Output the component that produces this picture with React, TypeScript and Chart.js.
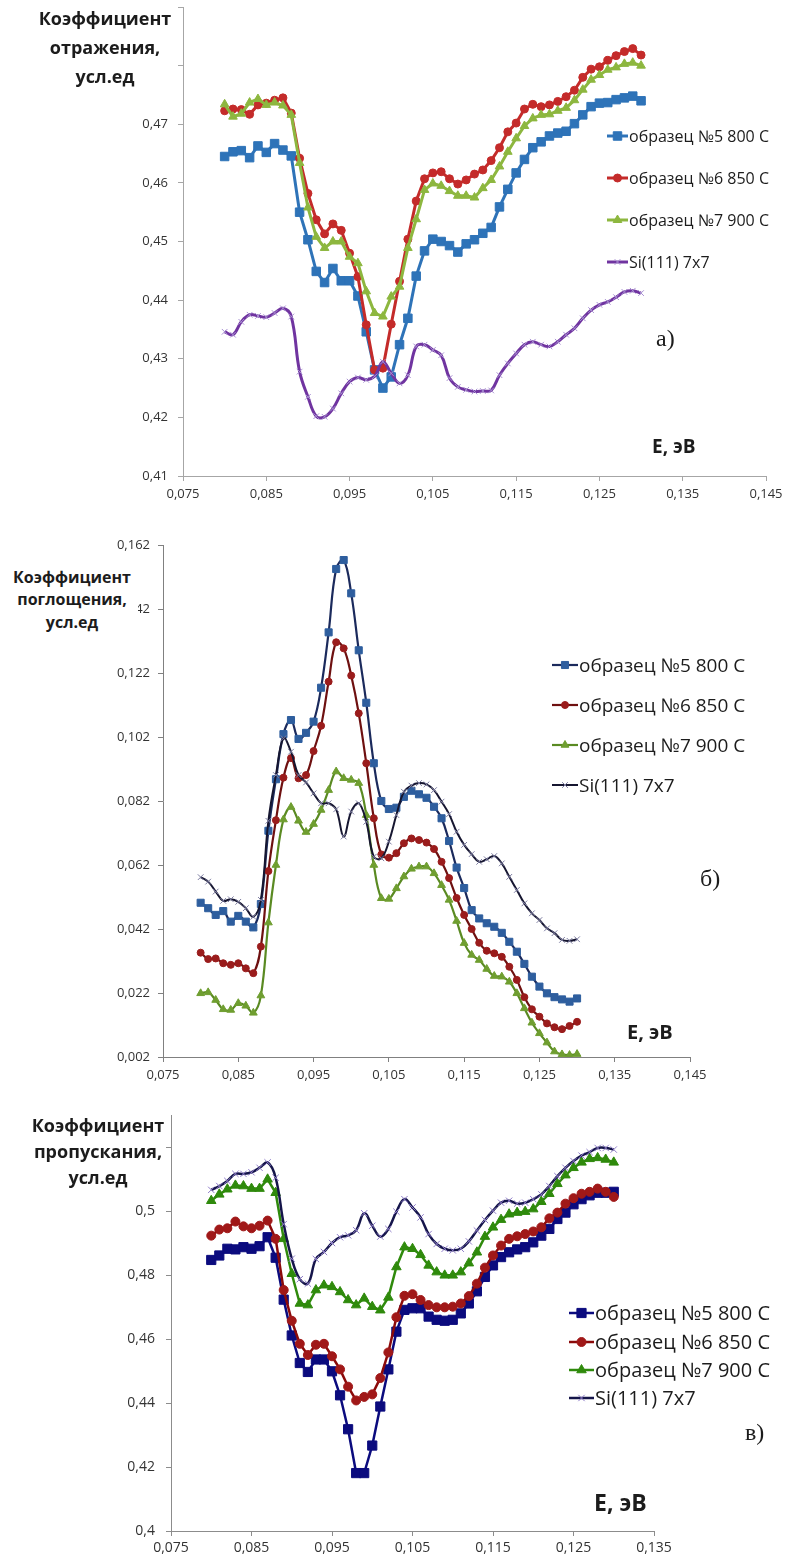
import React, { useEffect, useRef } from 'react';
import { Chart, registerables } from 'chart.js';
import { drawPoint } from 'chart.js/helpers';

Chart.register(...registerables);

// ---------- shared data ----------
const ENERGY = [
  0.080, 0.081, 0.082, 0.083, 0.084, 0.085, 0.086, 0.087, 0.088, 0.089,
  0.090, 0.091, 0.092, 0.093, 0.094, 0.095, 0.096, 0.097, 0.098, 0.099,
  0.100, 0.101, 0.102, 0.103, 0.104, 0.105, 0.106, 0.107, 0.108, 0.109,
  0.110, 0.111, 0.112, 0.113, 0.114, 0.115, 0.116, 0.117, 0.118, 0.119,
  0.120, 0.121, 0.122, 0.123, 0.124, 0.125, 0.126, 0.127, 0.128, 0.129,
  0.130,
];

const SERIES_NAMES = ['образец №5 800 С', 'образец №6 850 С', 'образец №7 900 С', 'Si(111) 7x7'];

const X_TICKS_AB = [0.075, 0.085, 0.095, 0.105, 0.115, 0.125, 0.135, 0.145];
const X_LABELS_AB = ['0,075', '0,085', '0,095', '0,105', '0,115', '0,125', '0,135', '0,145'];
const X_TICKS_C = [0.075, 0.085, 0.095, 0.105, 0.115, 0.125, 0.135];
const X_LABELS_C = ['0,075', '0,085', '0,095', '0,105', '0,115', '0,125', '0,135'];

// ---------- a) reflection ----------
const Y_TICKS_A = [0.41, 0.42, 0.43, 0.44, 0.45, 0.46, 0.47, 0.48, 0.49];
const Y_LABELS_A = ['0,41', '0,42', '0,43', '0,44', '0,45', '0,46', '0,47', '', ''];

const A_S5 = [
  0.4645, 0.4653, 0.4655, 0.4643, 0.4663, 0.4652, 0.4667, 0.4656, 0.4646, 0.4550,
  0.4503, 0.4449, 0.4430, 0.4454, 0.4433, 0.4433, 0.4407, 0.4346, 0.4281, 0.4250,
  0.4269, 0.4324, 0.4369, 0.4441, 0.4484, 0.4504, 0.4500, 0.4493, 0.4482, 0.4496,
  0.4503, 0.4514, 0.4524, 0.4559, 0.4589, 0.4617, 0.4640, 0.4660, 0.4670, 0.4680,
  0.4685, 0.4688, 0.4701, 0.4716, 0.4730, 0.4736, 0.4737, 0.4742, 0.4745, 0.4748,
  0.4740,
];
const A_S6 = [
  0.4723, 0.4726, 0.4725, 0.4717, 0.4733, 0.4736, 0.4741, 0.4745, 0.4719, 0.4642,
  0.4582, 0.4537, 0.4513, 0.4530, 0.4519, 0.4480, 0.4440, 0.4358, 0.4281, 0.4284,
  0.4359, 0.4432, 0.4504, 0.4569, 0.4607, 0.4617, 0.4619, 0.4607, 0.4598, 0.4605,
  0.4615, 0.4622, 0.4638, 0.4660, 0.4687, 0.4702, 0.4726, 0.4734, 0.4730, 0.4733,
  0.4739, 0.4747, 0.4758, 0.4780, 0.4794, 0.4798, 0.4809, 0.4817, 0.4824, 0.4829,
  0.4818,
];
const A_S7 = [
  0.4734, 0.4713, 0.4718, 0.4737, 0.4743, 0.4733, 0.4737, 0.4732, 0.4716, 0.4634,
  0.4558, 0.4508, 0.4489, 0.4500, 0.4500, 0.4474, 0.4463, 0.4415, 0.4378, 0.4372,
  0.4406, 0.4423, 0.4489, 0.4538, 0.4588, 0.4599, 0.4595, 0.4586, 0.4578, 0.4578,
  0.4575, 0.4591, 0.4605, 0.4628, 0.4653, 0.4676, 0.4697, 0.4710, 0.4716, 0.4717,
  0.4723, 0.4728, 0.4741, 0.4759, 0.4776, 0.4784, 0.4793, 0.4797, 0.4803, 0.4805,
  0.4800,
];
const A_SI = [
  0.4346, 0.4341, 0.4363, 0.4375, 0.4373, 0.4371, 0.4378, 0.4386, 0.4372, 0.4278,
  0.4235, 0.4202, 0.4201, 0.4215, 0.4241, 0.4261, 0.4268, 0.4264, 0.4270, 0.4295,
  0.4275, 0.4258, 0.4272, 0.4321, 0.4324, 0.4315, 0.4306, 0.4267, 0.4252, 0.4247,
  0.4244, 0.4245, 0.4246, 0.4272, 0.4292, 0.4309, 0.4324, 0.4329, 0.4324, 0.4321,
  0.4329, 0.4341, 0.4352, 0.4369, 0.4383, 0.4392, 0.4397, 0.4405, 0.4414, 0.4416,
  0.4412,
];

// ---------- б) absorption ----------
const Y_TICKS_B = [0.002, 0.022, 0.042, 0.062, 0.082, 0.102, 0.122, 0.142, 0.162];
const Y_LABELS_B = ['0,002', '0,022', '0,042', '0,062', '0,082', '0,102', '0,122', '0,142', '0,162'];

const B_S5 = [
  0.0502, 0.0485, 0.0464, 0.0476, 0.0443, 0.0461, 0.0443, 0.0425, 0.0498, 0.0727,
  0.0888, 0.1029, 0.1073, 0.1014, 0.1033, 0.1068, 0.1174, 0.1347, 0.1545, 0.1573,
  0.1469, 0.1291, 0.1127, 0.0938, 0.0820, 0.0795, 0.0799, 0.0833, 0.0852, 0.0841,
  0.0830, 0.0802, 0.0766, 0.0695, 0.0612, 0.0548, 0.0479, 0.0453, 0.0438, 0.0427,
  0.0408, 0.0380, 0.0349, 0.0311, 0.0271, 0.0240, 0.0219, 0.0207, 0.0200, 0.0193,
  0.0203,
];
const B_S6 = [
  0.0346, 0.0326, 0.0328, 0.0313, 0.0308, 0.0313, 0.0297, 0.0282, 0.0365, 0.0601,
  0.0760, 0.0893, 0.0954, 0.0891, 0.0901, 0.0976, 0.1055, 0.1193, 0.1316, 0.1297,
  0.1212, 0.1094, 0.0938, 0.0766, 0.0653, 0.0643, 0.0657, 0.0688, 0.0703, 0.0698,
  0.0690, 0.0670, 0.0630, 0.0579, 0.0517, 0.0464, 0.0420, 0.0377, 0.0352, 0.0344,
  0.0333, 0.0302, 0.0261, 0.0207, 0.0169, 0.0146, 0.0125, 0.0113, 0.0107, 0.0117,
  0.0130,
];
const B_S7 = [
  0.0219, 0.0222, 0.0198, 0.0169, 0.0167, 0.0188, 0.0180, 0.0158, 0.0212, 0.0440,
  0.0620, 0.0762, 0.0801, 0.0758, 0.0723, 0.0748, 0.0792, 0.0854, 0.0912, 0.0891,
  0.0886, 0.0876, 0.0776, 0.0620, 0.0516, 0.0514, 0.0547, 0.0584, 0.0608, 0.0615,
  0.0615, 0.0594, 0.0557, 0.0511, 0.0445, 0.0376, 0.0339, 0.0323, 0.0295, 0.0273,
  0.0271, 0.0255, 0.0219, 0.0172, 0.0127, 0.0094, 0.0065, 0.0037, 0.0028, 0.0026,
  0.0029,
];
const B_SI = [
  0.0582, 0.0568, 0.0537, 0.0508, 0.0513, 0.0505, 0.0485, 0.0458, 0.0511, 0.0758,
  0.0901, 0.1016, 0.0974, 0.0901, 0.0878, 0.0844, 0.0813, 0.0813, 0.0794, 0.0709,
  0.0787, 0.0813, 0.0755, 0.0646, 0.0641, 0.0693, 0.0776, 0.0849, 0.0868, 0.0876,
  0.0872, 0.0854, 0.0818, 0.0779, 0.0724, 0.0683, 0.0654, 0.0630, 0.0638, 0.0648,
  0.0625, 0.0583, 0.0542, 0.0500, 0.0469, 0.0448, 0.0422, 0.0407, 0.0386, 0.0383,
  0.0388,
];

// ---------- в) transmission ----------
const Y_TICKS_C = [0.40, 0.42, 0.44, 0.46, 0.48, 0.50, 0.52];
const Y_LABELS_C = ['0,4', '0,42', '0,44', '0,46', '0,48', '0,5', ''];

const C_S5 = [
  0.4847, 0.4861, 0.4882, 0.4880, 0.4887, 0.4882, 0.4890, 0.4918, 0.4854, 0.4723,
  0.4611, 0.4525, 0.4497, 0.4536, 0.4536, 0.4499, 0.4424, 0.4318, 0.4181, 0.4181,
  0.4267, 0.4389, 0.4505, 0.4623, 0.4691, 0.4696, 0.4696, 0.4670, 0.4660, 0.4657,
  0.4660, 0.4680, 0.4711, 0.4749, 0.4794, 0.4830, 0.4856, 0.4871, 0.4880, 0.4887,
  0.4902, 0.4923, 0.4944, 0.4975, 0.4995, 0.5021, 0.5037, 0.5049, 0.5057, 0.5057,
  0.5060,
];
const C_S6 = [
  0.4923, 0.4942, 0.4946, 0.4967, 0.4952, 0.4946, 0.4954, 0.4970, 0.4913, 0.4753,
  0.4657, 0.4585, 0.4550, 0.4582, 0.4585, 0.4546, 0.4505, 0.4451, 0.4408, 0.4419,
  0.4427, 0.4478, 0.4558, 0.4668, 0.4735, 0.4740, 0.4722, 0.4706, 0.4699, 0.4699,
  0.4701, 0.4711, 0.4734, 0.4773, 0.4823, 0.4861, 0.4892, 0.4913, 0.4921, 0.4928,
  0.4936, 0.4949, 0.4977, 0.4995, 0.5023, 0.5040, 0.5054, 0.5060, 0.5070, 0.5060,
  0.5044,
];
const C_S7 = [
  0.5032, 0.5052, 0.5068, 0.5080, 0.5078, 0.5070, 0.5070, 0.5099, 0.5057, 0.4913,
  0.4804, 0.4711, 0.4706, 0.4753, 0.4768, 0.4763, 0.4747, 0.4722, 0.4706, 0.4727,
  0.4701, 0.4690, 0.4730, 0.4825, 0.4887, 0.4882, 0.4863, 0.4830, 0.4809, 0.4799,
  0.4799, 0.4809, 0.4837, 0.4871, 0.4920, 0.4949, 0.4973, 0.4990, 0.4995, 0.4998,
  0.5006, 0.5029, 0.5054, 0.5085, 0.5112, 0.5135, 0.5152, 0.5163, 0.5166, 0.5161,
  0.5152,
];
const C_SI = [
  0.5066, 0.5078, 0.5094, 0.5116, 0.5116, 0.5121, 0.5135, 0.5152, 0.5104, 0.4959,
  0.4851, 0.4787, 0.4773, 0.4850, 0.4872, 0.4900, 0.4918, 0.4924, 0.4940, 0.4993,
  0.4954, 0.4920, 0.4944, 0.4998, 0.5037, 0.5011, 0.4980, 0.4928, 0.4897, 0.4882,
  0.4877, 0.4882, 0.4905, 0.4939, 0.4972, 0.5001, 0.5026, 0.5032, 0.5023, 0.5026,
  0.5037, 0.5052, 0.5078, 0.5109, 0.5135, 0.5156, 0.5173, 0.5184, 0.5197, 0.5197,
  0.5192,
];

// ---------- styling ----------
const FONT = "'Open Sans', 'Noto Sans', 'DejaVu Sans', sans-serif";
const SERIF = "'Liberation Serif', 'DejaVu Serif', serif";
const TEXT = '#1c1c1c';

type Style = { line: string; lw: number; ps: string; r: number; fill: string; edge: string; t: number };

const STYLE_A: Style[] = [
  { line: '#2E73B8', lw: 3, ps: 'rect', r: 6, fill: '#2E73B8', edge: '#2E73B8', t: 0 },
  { line: '#C42B2A', lw: 3, ps: 'circle', r: 4, fill: '#C42B2A', edge: '#C42B2A', t: 0 },
  { line: '#8DB73F', lw: 3, ps: 'triangle', r: 5, fill: '#8DB73F', edge: '#8DB73F', t: 0 },
  { line: '#7034A0', lw: 3, ps: 'crossRot', r: 4, fill: '#A890D2', edge: '#A890D2', t: 0.4 },
];
const STYLE_B: Style[] = [
  { line: '#1B2A5C', lw: 2.2, ps: 'rect', r: 5, fill: '#2E5E9E', edge: '#2E5E9E', t: 0.4 },
  { line: '#6E1010', lw: 2.2, ps: 'circle', r: 3.5, fill: '#9A1C1C', edge: '#9A1C1C', t: 0.4 },
  { line: '#5A8A22', lw: 2.2, ps: 'triangle', r: 4.5, fill: '#6F9E30', edge: '#6F9E30', t: 0.4 },
  { line: '#161630', lw: 2, ps: 'crossRot', r: 4, fill: '#7C7CA0', edge: '#7C7CA0', t: 0.4 },
];
const STYLE_C: Style[] = [
  { line: '#0B0B7E', lw: 2.5, ps: 'rect', r: 6.5, fill: '#0B0B7E', edge: '#0B0B7E', t: 0 },
  { line: '#8B0A0A', lw: 2.5, ps: 'circle', r: 4.5, fill: '#A01818', edge: '#A01818', t: 0 },
  { line: '#2F8A0C', lw: 2.5, ps: 'triangle', r: 5.5, fill: '#2F8A0C', edge: '#2F8A0C', t: 0 },
  { line: '#15154A', lw: 2.5, ps: 'crossRot', r: 4.5, fill: '#8E7CC8', edge: '#8E7CC8', t: 0.4 },
];

type Panel = {
  top: number;
  height: number;
  area: { left: number; right: number; top: number; bottom: number };
  xMin: number; xMax: number; xTicks: number[]; xLabels: string[];
  yMin: number; yMax: number; yTicks: number[]; yLabels: string[];
  axis: string; tickFont: number; yPad: number; xPad: number;
  series: number[][]; styles: Style[];
  legend: { x0: number; x1: number; rows: number[] };
};

const PANELS: Panel[] = [
  {
    top: 0, height: 515, area: { left: 183, right: 766, top: 7, bottom: 476 },
    xMin: 0.075, xMax: 0.145, xTicks: X_TICKS_AB, xLabels: X_LABELS_AB,
    yMin: 0.41, yMax: 0.49, yTicks: Y_TICKS_A, yLabels: Y_LABELS_A,
    axis: '#A6A6A6', tickFont: 13, yPad: 10, xPad: 5,
    series: [A_S5, A_S6, A_S7, A_SI], styles: STYLE_A,
    legend: { x0: 607, x1: 628, rows: [136, 178, 220, 262] },
  },
  {
    top: 520, height: 570, area: { left: 163, right: 690, top: 545, bottom: 1057 },
    xMin: 0.075, xMax: 0.145, xTicks: X_TICKS_AB, xLabels: X_LABELS_AB,
    yMin: 0.002, yMax: 0.162, yTicks: Y_TICKS_B, yLabels: Y_LABELS_B,
    axis: '#808080', tickFont: 13, yPad: 8, xPad: 5,
    series: [B_S5, B_S6, B_S7, B_SI], styles: STYLE_B,
    legend: { x0: 552, x1: 578, rows: [665, 705, 745, 785] },
  },
  {
    top: 1100, height: 461, area: { left: 171, right: 654, top: 1115, bottom: 1531 },
    xMin: 0.075, xMax: 0.135, xTicks: X_TICKS_C, xLabels: X_LABELS_C,
    yMin: 0.40, yMax: 0.53, yTicks: Y_TICKS_C, yLabels: Y_LABELS_C,
    axis: '#8C8C8C', tickFont: 14, yPad: 11, xPad: 4,
    series: [C_S5, C_S6, C_S7, C_SI], styles: STYLE_C,
    legend: { x0: 569, x1: 594, rows: [1313, 1342, 1370, 1398] },
  },
];

function legendPlugin(p: Panel) {
  return {
    id: 'markerLegend',
    afterDraw(chart: any) {
      const ctx = chart.ctx;
      p.styles.forEach((st, i) => {
        const y = p.legend.rows[i] - p.top;
        ctx.save();
        ctx.strokeStyle = st.line;
        ctx.lineWidth = st.lw;
        ctx.beginPath();
        ctx.moveTo(p.legend.x0, y);
        ctx.lineTo(p.legend.x1, y);
        ctx.stroke();
        ctx.fillStyle = st.fill;
        ctx.strokeStyle = st.edge;
        ctx.lineWidth = 1;
        drawPoint(ctx, { pointStyle: st.ps, radius: st.r, rotation: 0, borderWidth: 1 } as any,
          (p.legend.x0 + p.legend.x1) / 2, y);
        ctx.restore();
      });
    },
  };
}

function buildConfig(p: Panel): any {
  const datasets = p.series.map((vals, i) => {
    const st = p.styles[i];
    return {
      label: SERIES_NAMES[i],
      data: ENERGY.map((x, k) => ({ x, y: vals[k] })),
      borderColor: st.line,
      borderWidth: st.lw,
      pointStyle: st.ps,
      pointRadius: st.r,
      pointBackgroundColor: st.fill,
      pointBorderColor: st.edge,
      pointBorderWidth: 1,
      tension: st.t,
      fill: false,
      order: 3 - i,
    };
  });
  const font = { family: FONT, size: p.tickFont };
  return {
    type: 'line',
    data: { datasets },
    options: {
      responsive: false,
      animation: false,
      events: [],
      layout: {
        padding: {
          left: 0,
          right: 804 - p.area.right,
          top: p.area.top - p.top,
          bottom: 0,
        },
      },
      plugins: { legend: { display: false }, tooltip: { enabled: false }, title: { display: false } },
      scales: {
        x: {
          type: 'linear',
          min: p.xMin,
          max: p.xMax,
          afterBuildTicks: (s: any) => { s.ticks = p.xTicks.map((v) => ({ value: v })); },
          afterFit: (s: any) => {
            s.height = p.top + p.height - p.area.bottom;
            s.paddingLeft = 0; s.paddingRight = 0; s.paddingTop = 0; s.paddingBottom = 0;
          },
          ticks: {
            autoSkip: false, maxRotation: 0, padding: p.xPad, color: '#333333', font,
            callback: (_v: any, i: number) => p.xLabels[i],
          },
          grid: { display: true, drawOnChartArea: false, drawTicks: true, tickLength: 5, color: p.axis },
          border: { display: true, color: p.axis, width: 1 },
        },
        y: {
          type: 'linear',
          min: p.yMin,
          max: p.yMax,
          afterBuildTicks: (s: any) => { s.ticks = p.yTicks.map((v) => ({ value: v })); },
          afterFit: (s: any) => {
            s.width = p.area.left;
            s.paddingLeft = 0; s.paddingRight = 0; s.paddingTop = 0; s.paddingBottom = 0;
          },
          ticks: {
            autoSkip: false, padding: p.yPad, color: '#333333', font,
            callback: (_v: any, i: number) => p.yLabels[i],
          },
          grid: { display: true, drawOnChartArea: false, drawTicks: true, tickLength: 5, color: p.axis },
          border: { display: true, color: p.axis, width: 1 },
        },
      },
    },
    plugins: [legendPlugin(p)],
  };
}

function ChartPanel({ p }: { p: Panel }) {
  const ref = useRef<HTMLCanvasElement | null>(null);
  useEffect(() => {
    if (!ref.current) return;
    const chart = new Chart(ref.current, buildConfig(p));
    return () => chart.destroy();
  }, [p]);
  return (
    <canvas
      ref={ref}
      width={804}
      height={p.height}
      style={{ position: 'absolute', left: 0, top: p.top, width: 804, height: p.height }}
    />
  );
}

function Txt(props: {
  x: number; cy: number; size: number; lh?: number; bold?: boolean; serif?: boolean;
  width?: number; center?: boolean; bg?: boolean; children: React.ReactNode;
}) {
  const lh = props.lh ?? Math.round(props.size * 1.3);
  return (
    <div
      style={{
        position: 'absolute',
        left: props.x,
        top: props.cy - lh / 2,
        width: props.width,
        fontFamily: props.serif ? SERIF : FONT,
        fontSize: props.size,
        lineHeight: lh + 'px',
        fontWeight: props.bold ? 700 : 400,
        textAlign: props.center ? 'center' : 'left',
        whiteSpace: 'nowrap',
        color: TEXT,
        background: props.bg ? '#ffffff' : 'transparent',
        zIndex: 2,
      }}
    >
      {props.children}
    </div>
  );
}

export default function App() {
  const legendFonts = [16, 19, 20];
  const legendTextX = [629, 579, 595];
  return (
    <div style={{ position: 'absolute', left: 0, top: 0, width: 804, height: 1561, background: '#ffffff', overflow: 'hidden' }}>
      {PANELS.map((p, k) => (
        <ChartPanel key={k} p={p} />
      ))}

      {/* titles */}
      <Txt x={32} cy={18} size={18} lh={29} bold width={146} center>
        Коэффициент<br />отражения,<br />усл.ед
      </Txt>
      <Txt x={6} cy={577} size={16} lh={22.5} bold width={132} center bg>
        Коэффициент<br />поглощения,<br />усл.ед
      </Txt>
      <Txt x={26} cy={1125} size={18} lh={26} bold width={144} center>
        Коэффициент<br />пропускания,<br />усл.ед
      </Txt>

      {/* axis titles */}
      <Txt x={652} cy={446} size={19} bold>E, эВ</Txt>
      <Txt x={627} cy={1032} size={20} bold>E, эВ</Txt>
      <Txt x={594} cy={1502} size={23} bold>E, эВ</Txt>

      {/* panel letters */}
      <Txt x={656} cy={338} size={24} serif>а)</Txt>
      <Txt x={700} cy={878} size={24} serif>б)</Txt>
      <Txt x={745} cy={1432} size={24} serif>в)</Txt>

      {/* legend labels */}
      {PANELS.map((p, k) =>
        SERIES_NAMES.map((name, i) => (
          <Txt key={k + '-' + i} x={legendTextX[k]} cy={p.legend.rows[i]} size={legendFonts[k]}>
            {name}
          </Txt>
        )),
      )}
    </div>
  );
}
